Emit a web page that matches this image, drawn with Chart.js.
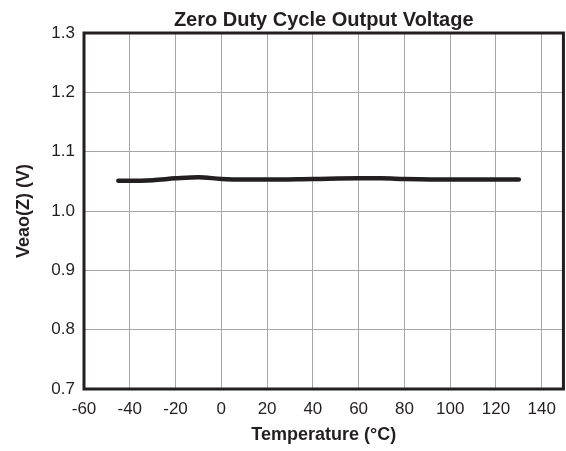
<!DOCTYPE html>
<html>
<head>
<meta charset="utf-8">
<script src="https://cdn.jsdelivr.net/npm/chart.js@4/dist/chart.umd.min.js"></script>
<style>
  html, body { margin: 0; padding: 0; background: #fff; overflow: hidden; }
  #wrap { width: 566px; height: 451px; }
</style>
</head>
<body>
<div id="wrap"><canvas id="voltChart" width="566" height="451"></canvas></div>
<script>
// Zero duty cycle output voltage vs temperature
const temps = [-45, -40, -30, -20, -10, 0, 10, 20, 40, 60, 70, 80, 100, 130];
const veao = [1.051, 1.051, 1.052, 1.055, 1.057, 1.054, 1.053, 1.053, 1.054, 1.055, 1.055, 1.054, 1.053, 1.053];
const xTicks = [-60, -40, -20, 0, 20, 40, 60, 80, 100, 120, 140];
const yTicks = [0.7, 0.8, 0.9, 1.0, 1.1, 1.2, 1.3];

const ink = '#231f20';
const gridGray = '#a6a6a6';

// plot frame drawn on top of grid + data
const framePlugin = {
    id: 'frame',
    afterDatasetsDraw(chart) {
        const { ctx, chartArea: a } = chart;
        ctx.save();
        ctx.strokeStyle = ink;
        ctx.lineWidth = 3;
        ctx.strokeRect(a.left, a.top, a.right - a.left, a.bottom - a.top);
        ctx.restore();
    }
};

const points = temps.map((t, i) => ({ x: t, y: veao[i] }));

new Chart(document.getElementById('voltChart'), {
    type: 'line',
    data: {
        datasets: [{
            data: points,
            borderColor: ink,
            borderWidth: 4.5,
            borderCapStyle: 'round',
            cubicInterpolationMode: 'monotone',
            pointRadius: 0,
            fill: false
        }]
    },
    options: {
        responsive: false,
        animation: false,
        layout: { padding: { left: 0, right: 2, top: 0, bottom: 0 } },
        plugins: {
            legend: { display: false },
            tooltip: { enabled: false },
            title: {
                display: true,
                fullSize: false,
                text: 'Zero Duty Cycle Output Voltage',
                color: ink,
                font: { family: 'Liberation Sans', size: 20, weight: 'bold' },
                padding: { top: 8, bottom: 1 }
            }
        },
        scales: {
            x: {
                type: 'linear',
                min: -60,
                max: 149.5,
                afterBuildTicks: scale => {
                    scale.ticks = xTicks.map(v => ({ value: v }));
                },
                afterFit: scale => { scale.height = 62; },
                ticks: {
                    color: ink,
                    font: { family: 'Liberation Sans', size: 17 },
                    padding: 10,
                    maxRotation: 0,
                    autoSkip: false
                },
                grid: { color: gridGray, lineWidth: 1, drawTicks: false },
                border: { display: false },
                title: {
                    display: true,
                    text: 'Temperature (°C)',
                    color: ink,
                    font: { family: 'Liberation Sans', size: 18, weight: 'bold' },
                    padding: { top: 0, bottom: 5 }
                }
            },
            y: {
                min: 0.7,
                max: 1.3,
                afterBuildTicks: scale => {
                    scale.ticks = yTicks.map(v => ({ value: v }));
                },
                afterFit: scale => { scale.width = 84; },
                ticks: {
                    color: ink,
                    font: { family: 'Liberation Sans', size: 17 },
                    padding: 9,
                    autoSkip: false,
                    callback: v => v.toFixed(1)
                },
                grid: { color: gridGray, lineWidth: 1, drawTicks: false },
                border: { display: false },
                title: {
                    display: true,
                    text: 'Veao(Z) (V)',
                    color: ink,
                    font: { family: 'Liberation Sans', size: 18, weight: 'bold' },
                    padding: { top: 13, bottom: 0 }
                }
            }
        }
    },
    plugins: [framePlugin]
});
</script>
</body>
</html>
